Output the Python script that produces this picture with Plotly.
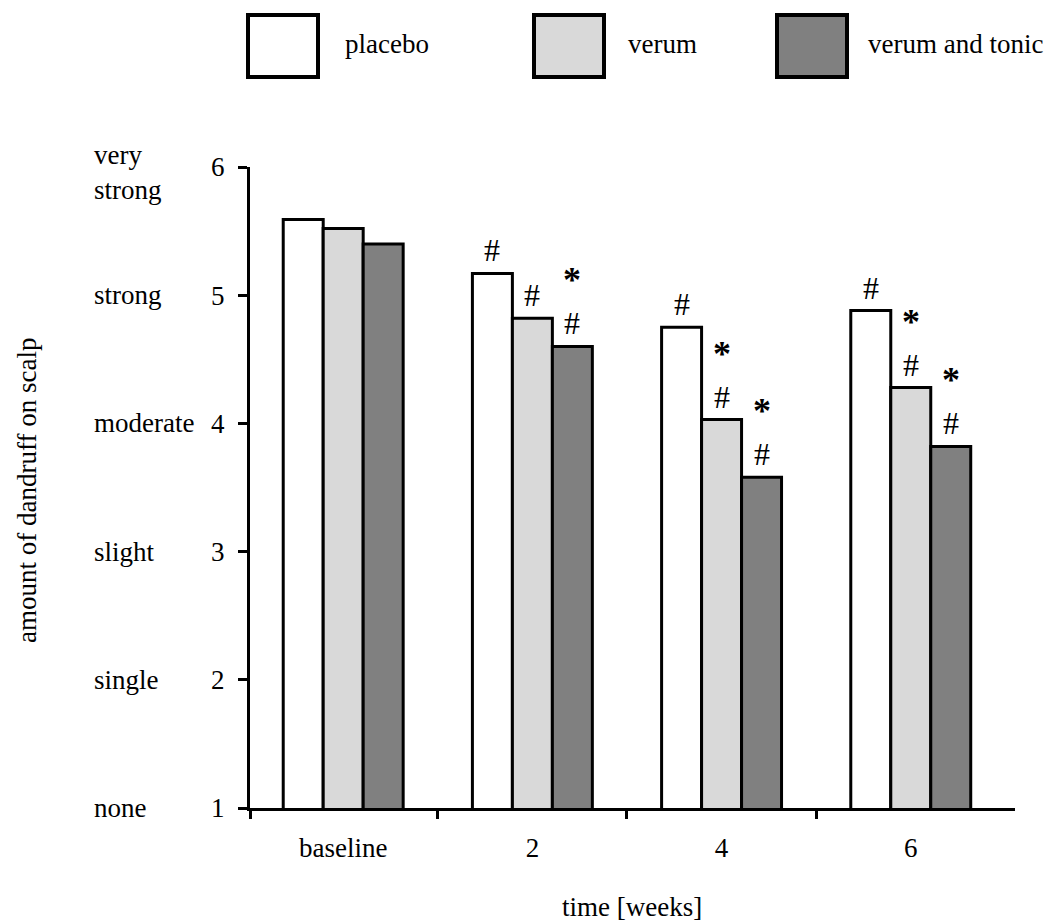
import plotly.graph_objects as go

# ---------------- data ----------------
weeks = ["baseline", "2", "4", "6"]
series_names = ["placebo", "verum", "verum and tonic"]
placebo = [5.59, 5.17, 4.75, 4.88]
verum = [5.52, 4.82, 4.03, 4.28]
tonic = [5.40, 4.60, 3.58, 3.82]
hash_placebo = [0, 1, 1, 1]
hash_verum = [0, 1, 1, 1]
hash_tonic = [0, 1, 1, 1]
star_placebo = [0, 0, 0, 0]
star_verum = [0, 0, 1, 1]
star_tonic = [0, 1, 1, 1]
y_tick_values = [1, 2, 3, 4, 5, 6]
y_level_labels = ["none", "single", "slight", "moderate", "strong", "very<br>strong"]
colors = ["#ffffff", "#d9d9d9", "#808080"]

values = [placebo, verum, tonic]
hashes = [hash_placebo, hash_verum, hash_tonic]
stars = [star_placebo, star_verum, star_tonic]

FONT = "Liberation Serif, Times New Roman, serif"
W, H = 1048, 921
L, R, T, B = 250, 1015, 167, 808  # plot area in pixels

def px_x(p):
    return (p - L) / (R - L)

def px_y(p):
    return (B - p) / (B - T)

x_pos = list(range(len(weeks)))
x_range = [-0.4926, 3.551]
bargap = 0.366
bar_w = (1 - bargap) / len(series_names)

fig = go.Figure()
for i, name in enumerate(series_names):
    fig.add_trace(go.Bar(
        x=x_pos, y=values[i], name=name,
        marker=dict(color=colors[i], line=dict(color="black", width=3)),
        showlegend=False,
    ))

annotations = []
# significance markers
for i in range(len(series_names)):
    off = (i - (len(series_names) - 1) / 2) * bar_w
    for k, xv in enumerate(x_pos):
        if hashes[i][k]:
            annotations.append(dict(
                x=xv + off, y=values[i][k], xref="x", yref="y",
                text="#", showarrow=False, yanchor="middle", yshift=23,
                font=dict(family=FONT, size=32, color="black")))
        if stars[i][k]:
            annotations.append(dict(
                x=xv + off, y=values[i][k], xref="x", yref="y",
                text="<b>*</b>", showarrow=False, yanchor="middle", yshift=66,
                font=dict(family=FONT, size=36, color="black")))

# y level labels
for v, lab in zip(y_tick_values, y_level_labels):
    annotations.append(dict(
        x=px_x(92), y=v, xref="paper", yref="y", text=lab, showarrow=False,
        xanchor="left", yanchor="middle", align="left",
        yshift=-5 if "<br>" in lab else 0,
        font=dict(family=FONT, size=27, color="black")))

# axis titles
annotations.append(dict(
    x=px_x(632), y=px_y(907), xref="paper", yref="paper", text="time [weeks]",
    showarrow=False, xanchor="center", yanchor="middle",
    font=dict(family=FONT, size=27, color="black")))
annotations.append(dict(
    x=px_x(27), y=px_y(490), xref="paper", yref="paper",
    text="amount of dandruff on scalp", textangle=-90,
    showarrow=False, xanchor="center", yanchor="middle",
    font=dict(family=FONT, size=27, color="black")))

# legend boxes
shapes = []
box_left = [248, 534, 777]
text_left = [343, 626, 866]
for i, name in enumerate(series_names):
    shapes.append(dict(
        type="rect", xref="paper", yref="paper",
        x0=px_x(box_left[i]), x1=px_x(box_left[i] + 70),
        y0=px_y(77), y1=px_y(15),
        line=dict(color="black", width=4), fillcolor=colors[i]))
    annotations.append(dict(
        x=px_x(text_left[i]), y=px_y(44), xref="paper", yref="paper",
        text=name, showarrow=False, xanchor="left", yanchor="middle",
        font=dict(family=FONT, size=27, color="black")))

fig.update_layout(
    width=W, height=H,
    margin=dict(l=L, r=W - R, t=T, b=H - B, pad=0),
    paper_bgcolor="white", plot_bgcolor="white",
    barmode="group", bargap=bargap, bargroupgap=0,
    font=dict(family=FONT, size=27, color="black"),
    annotations=annotations, shapes=shapes,
    showlegend=False,
)
fig.update_xaxes(
    type="linear", range=x_range, tickmode="array", tickvals=x_pos, ticktext=weeks,
    ticks="", showline=True, linecolor="black", linewidth=3, showgrid=False,
    zeroline=False, ticklabelstandoff=14,
    tickfont=dict(family=FONT, size=27, color="black"),
    minor=dict(tickmode="array", tickvals=[x_range[0], 0.5, 1.5, 2.5],
               ticks="outside", ticklen=8, tickwidth=3, tickcolor="black", showgrid=False),
)
fig.update_yaxes(
    range=[1, 6], tickmode="array", tickvals=y_tick_values,
    ticks="outside", ticklen=9, tickwidth=3, tickcolor="black",
    showline=True, linecolor="black", linewidth=3, showgrid=False, zeroline=False,
    ticklabelstandoff=8,
    tickfont=dict(family=FONT, size=27, color="black"),
)

fig.write_html("out.html")
